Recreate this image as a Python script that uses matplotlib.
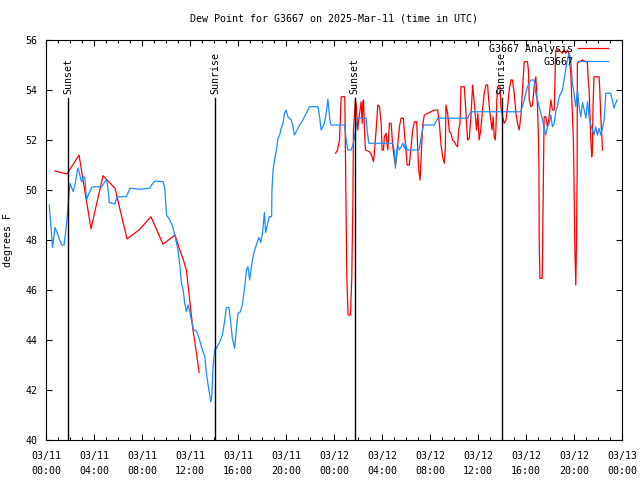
# ------------------------------
# Dew point time series, G3667
# ------------------------------

import matplotlib
matplotlib.use("Agg")
import matplotlib.pyplot as plt
from matplotlib.ticker import MultipleLocator

# hours since 03/11 00:00 UTC, dew point in F

analysis_hours = [
    0.75, 1.75, 2.75, 3.75, 4.75, 5.75, 6.75, 7.75, 8.75, 9.75, 10.75,
    11.15, 11.45, 11.7, 12.0, 12.25, 12.5, 12.76,
    None,
    24.13, 24.29, 24.46, 24.6, 24.9, 25.0, 25.07, 25.17, 25.37, 25.48, 25.57,
    25.62, 25.79, 25.87, 25.98, 26.06, 26.26, 26.35, 26.4, 26.46, 26.54, 26.62,
    26.96, 27.12, 27.29, 27.37, 27.51, 27.65, 27.79, 27.93, 28.01, 28.12, 28.2,
    28.34, 28.48, 28.62, 28.76, 28.9, 29.03, 29.12, 29.23, 29.31, 29.45, 29.59,
    29.78, 29.87, 30.01, 30.09, 30.28, 30.42, 30.56, 30.7, 30.89, 30.97, 31.06,
    31.17, 31.26, 31.39, 31.53, 31.81, 32.09, 32.36, 32.64, 32.78, 32.92, 33.05,
    33.2, 33.28, 33.33, 33.47, 33.61, 33.75, 33.88, 34.03, 34.17, 34.3, 34.39,
    34.5, 34.58, 34.86, 35.0, 35.13, 35.27, 35.41, 35.55, 35.69, 35.83, 35.88,
    35.99, 36.09, 36.23, 36.38, 36.52, 36.66, 36.8, 36.89, 37.0, 37.17, 37.27,
    37.35, 37.44, 37.49, 37.57, 37.63, 37.83, 37.91, 38.05, 38.19, 38.33, 38.46,
    38.6, 38.74, 38.87, 39.02, 39.16, 39.29, 39.43, 39.57, 39.71, 39.85, 40.12,
    40.2, 40.27, 40.41, 40.54, 40.68, 40.82, 40.96, 41.04, 41.08, 41.1, 41.16,
    41.35, 41.38, 41.43, 41.51, 41.65, 41.79, 41.93, 42.07, 42.2, 42.35, 42.48,
    42.76, 42.9, 43.04, 43.18, 43.32, 43.45, 43.59, 43.73, 43.87, 43.95, 43.99,
    44.07, 44.15, 44.2, 44.26, 44.28, 44.43, 44.7, 44.98, 45.11, 45.2, 45.26,
    45.4, 45.48, 45.53, 45.59, 45.67, 46.09, 46.15, 46.23, 46.32, 46.37,
]
analysis_dewpt = [
    50.76, 50.64, 51.4, 48.45, 50.57, 50.07, 48.04, 48.4, 48.93, 47.83, 48.2,
    47.6, 47.2, 46.8, 45.47, 44.4, 43.6, 42.7,
    None,
    51.47, 51.6, 52.0, 53.73, 53.73, 49.36, 46.47, 45.0, 45.0, 46.47, 49.36,
    52.4, 53.6, 53.3, 52.4, 52.8, 53.53, 52.67, 53.5, 53.6, 52.4, 51.6,
    51.53, 51.4, 51.13, 51.53, 52.4, 53.4, 53.33, 52.67, 51.6, 51.6, 52.13,
    52.27, 51.6, 52.67, 52.67, 51.73, 51.27, 51.0, 51.4, 51.8, 52.53, 52.87,
    52.87, 52.27, 51.53, 51.0, 51.0, 51.73, 52.4, 52.73, 52.73, 51.73, 50.8,
    50.4, 51.33, 52.6, 53.0, 53.07, 53.13, 53.2, 53.2, 52.67, 51.8, 51.33,
    51.07, 51.73, 53.4, 53.07, 52.33, 52.27, 52.0, 51.93, 51.8, 51.73, 52.4,
    52.67, 54.13, 54.13, 53.07, 52.0, 52.07, 52.93, 54.2, 53.47, 52.67, 52.4,
    53.07, 52.0, 52.4, 53.2, 53.87, 54.2, 54.2, 53.6, 53.07, 52.4, 52.93,
    52.13, 52.0, 52.4, 53.6, 54.13, 54.13, 53.33, 52.93, 52.67, 52.8, 53.33,
    54.0, 54.4, 54.4, 53.87, 53.07, 52.67, 52.4, 52.93, 54.0, 55.13, 55.13,
    54.8, 53.6, 53.33, 53.4, 54.13, 54.53, 53.33, 52.0, 50.8, 47.93, 46.47,
    46.47, 47.6, 49.73, 52.93, 52.93, 52.53, 52.93, 53.6, 53.2, 53.2, 55.6,
    55.6, 55.53, 55.47, 55.6, 55.47, 55.6, 55.4, 54.67, 52.93, 52.0, 50.73,
    47.73, 46.2, 47.73, 50.6, 55.07, 55.13, 55.2, 55.13, 55.13, 54.27, 54.0,
    52.0, 51.33, 51.6, 53.47, 54.53, 54.53, 54.0, 52.93, 52.13, 51.6,
]

obs_hours = [
    0.27, 0.55, 0.75, 1.0, 1.3, 1.5, 1.66, 1.78, 1.88, 2.0, 2.27, 2.45, 2.62,
    2.69, 2.82, 2.96, 3.1, 3.24, 3.38, 3.52, 3.66, 3.8, 4.0, 4.35, 4.63, 4.91,
    5.05, 5.18, 5.27, 5.74, 5.93, 6.7, 6.99, 7.82, 8.65, 8.79, 9.07, 9.76, 9.9,
    10.04, 10.32, 10.6, 10.73, 11.0, 11.15, 11.29, 11.43, 11.56, 11.7, 11.84,
    11.98, 12.2, 12.3, 12.5, 12.67, 12.8, 12.95, 13.23, 13.37, 13.51, 13.64,
    13.73, 13.82, 13.92, 14.06, 14.2, 14.48, 14.7, 14.9, 15.03, 15.25, 15.37,
    15.53, 15.72, 15.86, 16.0, 16.2, 16.36, 16.56, 16.7, 16.83, 16.97, 17.1,
    17.25, 17.39, 17.6, 17.75, 17.9, 18.05, 18.2, 18.3, 18.45, 18.6, 18.8,
    18.83, 18.92, 19.05, 19.2, 19.33, 19.47, 19.6, 19.75, 19.88, 20.0, 20.16,
    20.3, 20.44, 20.58, 20.7, 20.85, 21.13, 21.4, 21.69, 21.83, 21.96, 22.66,
    22.8, 22.93, 23.07, 23.2, 23.35, 23.42, 23.49, 23.63, 23.7, 23.77, 24.88,
    25.0, 25.15, 25.43, 25.57, 25.7, 25.85, 25.95, 26.68, 26.76, 26.9, 28.9,
    29.04, 29.12, 29.23, 29.31, 29.45, 29.59, 29.73, 29.87, 29.95, 30.09, 31.1,
    31.25, 31.45, 32.36, 32.64, 35.13, 35.4, 39.57, 39.85, 40.12, 40.4, 40.68,
    40.82, 41.1, 41.37, 41.65, 41.79, 41.93, 42.07, 42.2, 42.35, 42.48, 42.62,
    42.76, 43.04, 43.17, 43.3, 43.45, 43.6, 43.73, 43.87, 44.0, 44.15, 44.29,
    44.43, 44.57, 44.71, 44.85, 44.99, 45.13, 45.26, 45.4, 45.54, 45.67, 45.81,
    45.95, 46.09, 46.23, 46.37, 46.51, 46.65, 47.05, 47.19, 47.33, 47.47, 47.6,
]
obs_dewpt = [
    49.4, 47.7, 48.5, 48.2, 47.8, 47.8, 48.4, 49.0, 49.67, 50.27, 49.93, 50.3,
    50.8, 50.87, 50.6, 50.33, 50.53, 50.5, 49.6, 49.8, 49.93, 50.1, 50.13,
    50.13, 50.13, 50.33, 50.43, 50.0, 49.5, 49.44, 49.73, 49.73, 50.07, 50.03,
    50.07, 50.2, 50.36, 50.33, 50.07, 49.0, 48.8, 48.47, 48.2, 47.6, 47.0,
    46.27, 46.0, 45.47, 45.13, 45.4, 45.13, 44.6, 44.4, 44.37, 44.2, 44.0,
    43.73, 43.33, 42.67, 42.2, 41.8, 41.53, 41.8, 42.93, 43.6, 43.67, 43.93,
    44.2, 44.8, 45.3, 45.3, 44.8, 44.07, 43.67, 44.4, 45.07, 45.13, 45.4,
    46.13, 46.8, 46.93, 46.4, 46.87, 47.33, 47.6, 47.9, 48.1, 47.9, 48.3,
    49.1, 48.3, 48.6, 48.93, 48.93, 50.0, 50.8, 51.2, 51.6, 52.07, 52.2,
    52.47, 52.67, 53.07, 53.2, 52.93, 52.87, 52.8, 52.53, 52.2, 52.33, 52.6,
    52.8, 53.07, 53.2, 53.33, 53.33, 52.93, 52.4, 52.53, 52.67, 53.07, 53.33,
    53.63, 52.93, 52.67, 52.6, 52.6, 52.07, 51.6, 51.6, 51.8, 52.07, 52.53,
    52.87, 52.87, 52.4, 51.87, 51.87, 51.53, 50.87, 51.53, 51.8, 51.6, 51.73,
    51.87, 51.67, 51.87, 51.6, 51.6, 52.07, 52.6, 52.6, 52.87, 52.87, 53.13,
    53.13, 53.6, 54.13, 54.4, 54.4, 53.87, 53.33, 52.8, 52.2, 52.53, 52.67,
    53.0, 52.53, 52.67, 53.13, 53.33, 53.73, 54.0, 54.4, 54.8, 55.2, 55.47,
    55.2, 54.27, 53.87, 53.33, 54.0, 53.33, 52.93, 53.5, 53.2, 52.87, 53.53,
    52.93, 52.6, 52.4, 52.2, 52.53, 52.2, 52.47, 52.2, 52.47, 52.8, 53.87,
    53.87, 53.6, 53.27, 53.47, 53.6,
]

sun_hours = [1.85, 14.08, 25.71, 37.96]
sun_names = ["Sunset", "Sunrise", "Sunset", "Sunrise"]

tick_hours = list(range(0, 49, 4))
tick_labels = [
    "03/11\n00:00", "03/11\n04:00", "03/11\n08:00", "03/11\n12:00",
    "03/11\n16:00", "03/11\n20:00", "03/12\n00:00", "03/12\n04:00",
    "03/12\n08:00", "03/12\n12:00", "03/12\n16:00", "03/12\n20:00",
    "03/13\n00:00",
]

# ------------------------------
# Plot
# ------------------------------

plt.rcParams["font.family"] = "DejaVu Sans Mono"
plt.rcParams["font.size"] = 7.2

fig = plt.figure(figsize=(6.4, 4.8), dpi=100)
ax = fig.add_axes([46 / 640, 40 / 480, 576 / 640, 400 / 480])

ax.plot(analysis_hours, analysis_dewpt, color="#ff0000", lw=0.9,
        label="G3667 Analysis")
ax.plot(obs_hours, obs_dewpt, color="#1a8cff", lw=0.9, label="G3667")

for h, name in zip(sun_hours, sun_names):
    ax.axvline(h, ymax=0.855, color="black", lw=1)
    ax.text(h, 0.866, name, rotation=90, transform=ax.get_xaxis_transform(),
            ha="center", va="bottom")

ax.set_xlim(0, 48)
ax.set_ylim(40, 56)
ax.set_xticks(tick_hours)
ax.set_xticklabels(tick_labels, linespacing=1.65)
ax.xaxis.set_minor_locator(MultipleLocator(1))
ax.yaxis.set_major_locator(MultipleLocator(2))

ax.tick_params(which="both", direction="in", top=True, right=True)
ax.tick_params(which="major", length=4, width=0.8, pad=6)
ax.tick_params(axis="x", which="major", pad=8)
ax.tick_params(which="minor", length=2, width=0.8)
for s in ax.spines.values():
    s.set_linewidth(0.8)

ax.set_ylabel("degrees F", labelpad=9)
ax.set_title("Dew Point for G3667 on 2025-Mar-11 (time in UTC)",
             fontsize=7.2, pad=13)

ax.legend(loc="upper right", bbox_to_anchor=(0.98, 0.995), frameon=False,
          markerfirst=False, handlelength=3, handletextpad=0.5,
          labelspacing=0.3, borderaxespad=0.0, borderpad=0.2)

plt.savefig("out.png", dpi=100)
